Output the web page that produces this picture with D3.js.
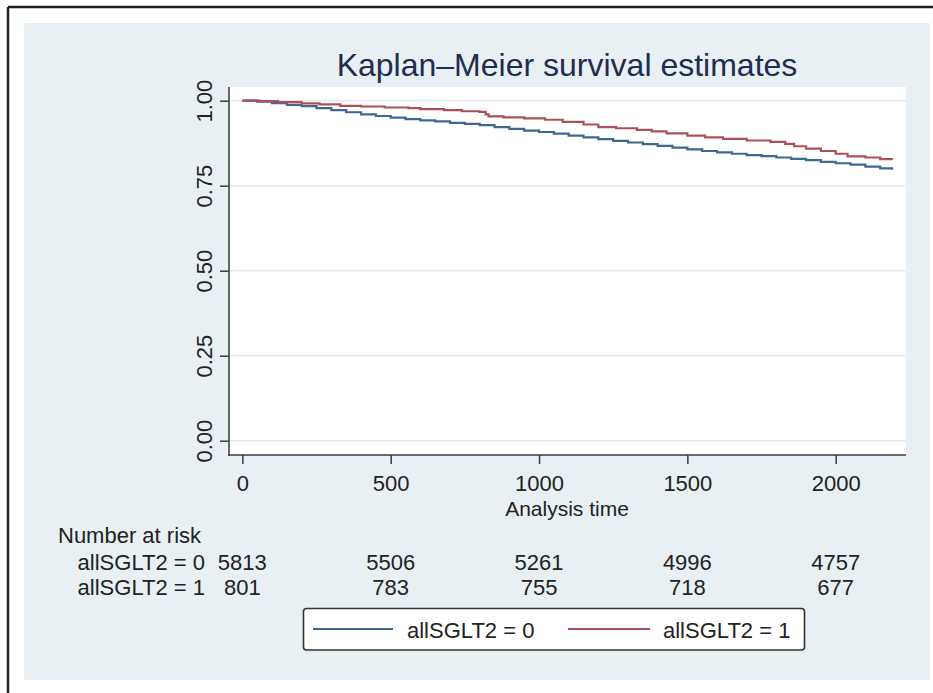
<!DOCTYPE html>
<html>
<head>
<meta charset="utf-8">
<script src="https://cdn.jsdelivr.net/npm/d3@7"></script>
<style>
  html, body { margin: 0; padding: 0; background: #ffffff; }
  svg { display: block; }
  svg text { font-family: "Liberation Sans", Arial, Helvetica, sans-serif; }
</style>
</head>
<body>
<svg id="chart" width="933" height="693"></svg>
<script>
// ---- Data ----
const titleText = "Kaplan–Meier survival estimates";
const xTitle = "Analysis time";
const groupLabels = ["allSGLT2 = 0", "allSGLT2 = 1"];

const xTicks = [0, 500, 1000, 1500, 2000];
const yTicks = [0, 0.25, 0.5, 0.75, 1.0];

// Kaplan–Meier estimate, allSGLT2 = 0 : [time, survival]
const survival0 = [
  [0, 1.000], [50, 0.997], [100, 0.993], [150, 0.988], [200, 0.984], [250, 0.978],
  [300, 0.972], [350, 0.966], [400, 0.960], [450, 0.955], [500, 0.950], [550, 0.946],
  [600, 0.942], [650, 0.939], [700, 0.935], [750, 0.932], [800, 0.928], [850, 0.922],
  [900, 0.917], [950, 0.912], [1000, 0.908], [1050, 0.903], [1100, 0.897], [1150, 0.892],
  [1200, 0.887], [1250, 0.882], [1300, 0.877], [1350, 0.872], [1400, 0.867], [1450, 0.862],
  [1500, 0.857], [1550, 0.852], [1600, 0.848], [1650, 0.844], [1700, 0.840], [1750, 0.837],
  [1800, 0.833], [1850, 0.829], [1900, 0.825], [1950, 0.820], [2000, 0.816], [2050, 0.812],
  [2100, 0.806], [2150, 0.801], [2190, 0.797]
];

// Kaplan–Meier estimate, allSGLT2 = 1 : [time, survival]
const survival1 = [
  [0, 1.000], [60, 0.999], [120, 0.996], [200, 0.992], [260, 0.989], [330, 0.985],
  [400, 0.983], [480, 0.980], [560, 0.978], [600, 0.975], [680, 0.972], [740, 0.969],
  [800, 0.967], [820, 0.960], [830, 0.954], [880, 0.951], [950, 0.948], [1020, 0.944],
  [1080, 0.938], [1150, 0.930], [1200, 0.922], [1260, 0.919], [1330, 0.914], [1380, 0.910],
  [1430, 0.904], [1500, 0.897], [1560, 0.892], [1620, 0.888], [1700, 0.883], [1780, 0.879],
  [1830, 0.873], [1860, 0.866], [1900, 0.859], [1950, 0.852], [2000, 0.844], [2040, 0.836],
  [2100, 0.833], [2150, 0.828], [2190, 0.826]
];

// Number at risk
const atRiskTimes = [0, 500, 1000, 1500, 2000];
const atRisk0 = [5813, 5506, 5261, 4996, 4757];
const atRisk1 = [801, 783, 755, 718, 677];

// ---- Styles ----
const FONT = '"Liberation Sans", Arial, Helvetica, sans-serif';
const colors = ["#3f6891", "#ad4f59"];
const textColor = "#222222";
const titleColor = "#1f2d50";
const bgColor = "#e8f0f3";
const gridColor = "#e3ebee";
const axisColor = "#3a3a3a";

// ---- Layout ----
const svg = d3.select("#chart").attr("font-family", FONT);
const plotLeft = 229, plotRight = 906, plotTop = 87, plotBottom = 455;

// outer frame (left and top edges visible)
svg.append("rect").attr("x", 24).attr("y", 23).attr("width", 906).attr("height", 657)
  .attr("fill", bgColor);
svg.append("line").attr("x1", 8).attr("y1", 7).attr("x2", 933).attr("y2", 7)
  .attr("stroke", "#222").attr("stroke-width", 2.5);
svg.append("line").attr("x1", 8).attr("y1", 7).attr("x2", 8).attr("y2", 693)
  .attr("stroke", "#222").attr("stroke-width", 2.5);

// scales
const x = d3.scaleLinear().domain([-45, 2237]).range([plotLeft, plotRight]);
const y = d3.scaleLinear().domain([0, 1]).range([440.7, 100.7]);

// plot region
svg.append("rect").attr("x", plotLeft).attr("y", plotTop)
  .attr("width", plotRight - plotLeft).attr("height", plotBottom - plotTop)
  .attr("fill", "#ffffff");

// grid lines
svg.append("g").selectAll("line").data(yTicks).join("line")
  .attr("x1", plotLeft).attr("x2", plotRight)
  .attr("y1", d => y(d)).attr("y2", d => y(d))
  .attr("stroke", gridColor).attr("stroke-width", 1.5);

// title
svg.append("text").attr("x", 567).attr("y", 76).attr("text-anchor", "middle")
  .attr("font-family", FONT)
  .attr("font-size", 32).attr("fill", titleColor).text(titleText);

// Y axis
const yAxis = svg.append("g").attr("transform", `translate(${plotLeft},0)`)
  .call(d3.axisLeft(y).tickValues(yTicks).tickFormat(d3.format(".2f")).tickSize(9).tickSizeOuter(0));
yAxis.attr("font-family", FONT).attr("font-size", 22);
yAxis.select(".domain").remove();
yAxis.selectAll(".tick line").attr("stroke", axisColor).attr("stroke-width", 1.5);
yAxis.selectAll(".tick text")
  .attr("transform", "rotate(-90)")
  .attr("x", 0).attr("y", -17).attr("dy", 0)
  .attr("text-anchor", "middle")
  .attr("font-family", FONT)
  .attr("font-size", 22).attr("fill", textColor);
svg.append("line").attr("x1", plotLeft).attr("x2", plotLeft)
  .attr("y1", plotTop).attr("y2", plotBottom + 0.75)
  .attr("stroke", axisColor).attr("stroke-width", 1.5);

// X axis
const xAxis = svg.append("g").attr("transform", `translate(0,${plotBottom})`)
  .call(d3.axisBottom(x).tickValues(xTicks).tickFormat(d3.format("d")).tickSize(9).tickSizeOuter(0).tickPadding(11));
xAxis.attr("font-family", FONT).attr("font-size", 22);
xAxis.select(".domain").remove();
xAxis.selectAll(".tick line").attr("stroke", axisColor).attr("stroke-width", 1.5);
xAxis.selectAll(".tick text")
  .attr("font-family", FONT)
  .attr("font-size", 22).attr("fill", textColor);
svg.append("line").attr("x1", plotLeft - 0.75).attr("x2", plotRight)
  .attr("y1", plotBottom).attr("y2", plotBottom)
  .attr("stroke", axisColor).attr("stroke-width", 1.5);

svg.append("text").attr("x", 567).attr("y", 516).attr("text-anchor", "middle")
  .attr("font-family", FONT)
  .attr("font-size", 21).attr("fill", textColor).text(xTitle);

// survival curves
const line = d3.line().x(d => x(d[0])).y(d => y(d[1])).curve(d3.curveStepAfter);
[survival0, survival1].forEach((s, i) => {
  svg.append("path").datum(s).attr("d", line)
    .attr("fill", "none").attr("stroke", colors[i]).attr("stroke-width", 2.2);
});

// Number at risk table
svg.append("text").attr("x", 58).attr("y", 543).attr("font-size", 22)
  .attr("font-family", FONT)
  .attr("fill", textColor).text("Number at risk");
[atRisk0, atRisk1].forEach((row, i) => {
  const by = 570 + i * 25;
  svg.append("text").attr("x", 205).attr("y", by).attr("text-anchor", "end")
    .attr("font-family", FONT)
    .attr("font-size", 22).attr("fill", textColor).text(groupLabels[i]);
  svg.append("g").selectAll("text").data(row).join("text")
    .attr("x", (d, j) => x(atRiskTimes[j])).attr("y", by)
    .attr("text-anchor", "middle").attr("font-size", 22).attr("fill", textColor)
    .attr("font-family", FONT)
    .text(d => d);
});

// legend
const lg = svg.append("g");
lg.append("rect").attr("x", 303.5).attr("y", 608.5).attr("width", 501).attr("height", 41.5)
  .attr("rx", 3).attr("fill", "#ffffff").attr("stroke", "#333").attr("stroke-width", 1.6);
const legendItems = [
  { x1: 313, x2: 393, tx: 407 },
  { x1: 568, x2: 650, tx: 663 }
];
legendItems.forEach((it, i) => {
  lg.append("line").attr("x1", it.x1).attr("x2", it.x2).attr("y1", 629).attr("y2", 629)
    .attr("stroke", colors[i]).attr("stroke-width", 2.2);
  lg.append("text").attr("x", it.tx).attr("y", 638).attr("font-size", 22)
    .attr("font-family", FONT)
    .attr("fill", textColor).text(groupLabels[i]);
});
</script>
</body>
</html>
